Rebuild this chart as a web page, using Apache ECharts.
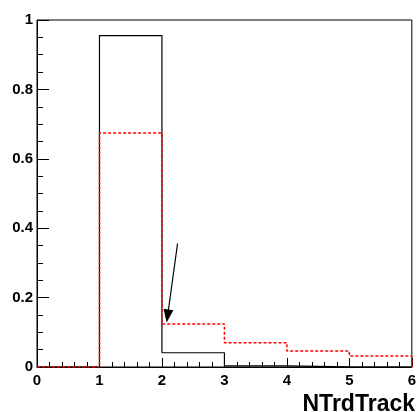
<!DOCTYPE html>
<html>
<head>
<meta charset="utf-8">
<script src="https://cdn.jsdelivr.net/npm/echarts@6/dist/echarts.min.js"></script>
<style>
  html, body { margin: 0; padding: 0; background: #fff; }
  #chart { width: 419px; height: 412px; }
</style>
</head>
<body>
<div id="chart"></div>
<script>
// Bin edges of NTrdTrack and the normalised contents of the two histograms
var binEdges = [0, 1, 2, 3, 4, 5, 6];
var blackHist = [0, 0.955, 0.041, 0.003, 0.0005, 0];
var redHist = [0, 0.674, 0.124, 0.070, 0.046, 0.032];
var xTickLabels = ['0', '1', '2', '3', '4', '5', '6'];
var yTickLabels = ['0', '0.2', '0.4', '0.6', '0.8', '1'];
var xTitle = 'NTrdTrack';
// Annotation arrow, tail then head, in data units
var arrowTail = [2.25, 0.356];
var arrowHead = [2.09, 0.147];

// Turn bin contents into a step outline
function outline(values) {
  var pts = [[binEdges[0], 0]];
  for (var i = 0; i < values.length; i++) {
    pts.push([binEdges[i], values[i]]);
    pts.push([binEdges[i + 1], values[i]]);
  }
  pts.push([binEdges[binEdges.length - 1], 0]);
  return pts;
}

var font = 'Liberation Sans, Arial, Helvetica, sans-serif';
var chart = echarts.init(document.getElementById('chart'), null, { renderer: 'canvas' });
chart.setOption({
  animation: false,
  backgroundColor: '#fff',
  grid: { left: 37, right: 5, top: 20, bottom: 45, show: true, borderColor: '#000', borderWidth: 1, backgroundColor: 'transparent' },
  graphic: [{
    type: 'text', right: 4, bottom: -4, z: 10,
    style: { text: xTitle, fontFamily: font, fontWeight: 'bold', fontSize: 23, fill: '#000' }
  }],
  xAxis: {
    type: 'value', min: 0, max: 6, interval: 1,
    axisLine: { show: true, onZero: false, lineStyle: { color: '#000', width: 1 } },
    axisTick: { show: true, inside: true, length: 9, lineStyle: { color: '#000' } },
    minorTick: { show: true, splitNumber: 5, length: 5, lineStyle: { color: '#000' } },
    splitLine: { show: false },
    axisLabel: {
      margin: 6, color: '#000', fontFamily: font, fontWeight: 'bold', fontSize: 15,
      formatter: function (v) { return xTickLabels[Math.round(v)]; }
    }
  },
  yAxis: {
    type: 'value', min: 0, max: 1, interval: 0.2,
    axisLine: { show: true, lineStyle: { color: '#000', width: 1 } },
    axisTick: { show: true, inside: true, length: 12, lineStyle: { color: '#000' } },
    minorTick: { show: true, splitNumber: 4, length: 6, lineStyle: { color: '#000' } },
    splitLine: { show: false },
    axisLabel: {
      margin: 4, color: '#000', fontFamily: font, fontWeight: 'bold', fontSize: 15,
      formatter: function (v) { return yTickLabels[Math.round(v * 5)]; }
    }
  },
  series: [
    {
      type: 'line', data: outline(blackHist), symbol: 'none', z: 3,
      lineStyle: { color: '#000', width: 1.2 }
    },
    {
      type: 'line', data: outline(redHist), symbol: 'none', z: 4,
      lineStyle: { color: '#ff0000', width: 1.5, type: [3, 2] },
      markLine: {
        silent: true, symbol: ['none', 'triangle'], symbolSize: [10, 13],
        label: { show: false },
        lineStyle: { color: '#000', width: 1.2, type: 'solid' },
        data: [[{ coord: arrowTail }, { coord: arrowHead }]]
      }
    }
  ]
});
</script>
</body>
</html>
